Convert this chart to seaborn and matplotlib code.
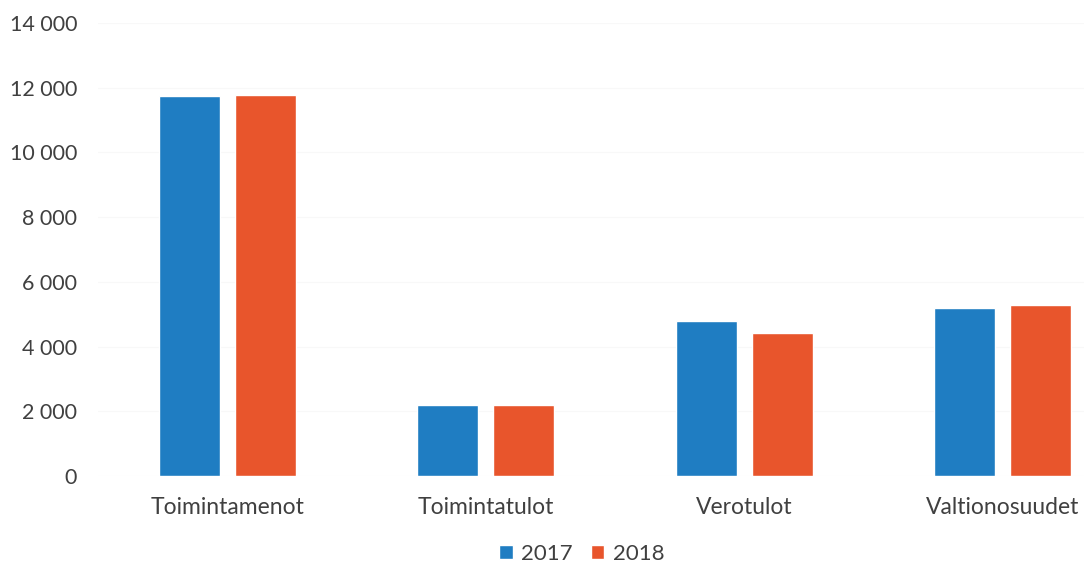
import pandas as pd
import matplotlib.pyplot as plt
import seaborn as sns
from matplotlib.ticker import FuncFormatter

categories = ['Toimintamenot', 'Toimintatulot', 'Verotulot', 'Valtionosuudet']
years = ['2017', '2018']
values_2017 = [11730, 2180, 4800, 5180]
values_2018 = [11790, 2180, 4420, 5280]
colors = ['#1f7dc2', '#e8552c']

df = pd.DataFrame({
    'kategoria': categories * 2,
    'vuosi': [years[0]] * 4 + [years[1]] * 4,
    'arvo': values_2017 + values_2018,
})

sns.set_theme(style='white')
plt.rcParams['font.family'] = ['Lato', 'DejaVu Sans']

fig = plt.figure(figsize=(10.84, 5.69), dpi=100)
ax = fig.add_axes([98 / 1084, 93 / 569, 1 - 98 / 1084, (476 - 23) / 569])

sns.barplot(data=df, x='kategoria', y='arvo', hue='vuosi', palette=colors,
            width=0.59, gap=0.2, saturation=1, ax=ax, legend=True)

ax.set_ylim(0, 14000)
ax.set_xlim(-0.5, 3.5 - 48 / 258.5)
ax.set_yticks(range(0, 14001, 2000))
ax.yaxis.set_major_formatter(FuncFormatter(lambda v, p: f'{int(v):,}'.replace(',', ' ')))
ax.grid(axis='y', color='#f8f8f8', linewidth=0.8)
ax.set_axisbelow(True)
for s in ax.spines.values():
    s.set_visible(False)
ax.tick_params(axis='y', labelsize=15.5, labelcolor='#404040', length=0, pad=15)
ax.tick_params(axis='x', labelsize=16.5, labelcolor='#404040', length=0, pad=15)
ax.set_xlabel('')
ax.set_ylabel('')

ax.legend_.remove()
handles, labels = ax.get_legend_handles_labels()
fig.legend(handles, labels, loc='center', bbox_to_anchor=(582 / 1084, 1 - 554 / 569),
           ncol=2, frameon=False, fontsize=16, handlelength=0.6, handleheight=0.6,
           handletextpad=0.4, columnspacing=0.8, labelcolor='#404040')

fig.savefig('out.png', dpi=100)
